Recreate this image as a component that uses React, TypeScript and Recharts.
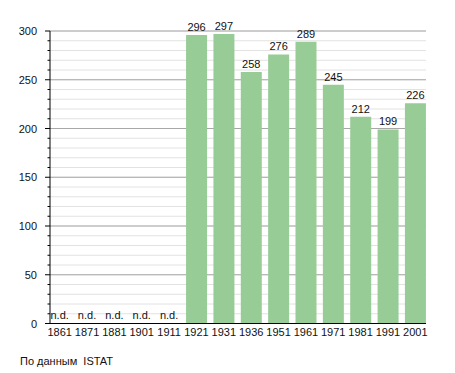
import React from "react";
import {
  BarChart,
  Bar,
  XAxis,
  YAxis,
  CartesianGrid,
  LabelList,
} from "recharts";

const years = [
  "1861", "1871", "1881", "1901", "1911", "1921", "1931",
  "1936", "1951", "1961", "1971", "1981", "1991", "2001",
];
const population: (number | null)[] = [
  null, null, null, null, null, 296, 297, 258, 276, 289, 245, 212, 199, 226,
];
const majorTicks = [0, 50, 100, 150, 200, 250, 300];
const minorTicks = [
  0, 10, 20, 30, 40, 50, 60, 70, 80, 90, 100, 110, 120, 130, 140, 150, 160,
  170, 180, 190, 200, 210, 220, 230, 240, 250, 260, 270, 280, 290, 300,
];

const FONT = "'Liberation Sans', Arial, sans-serif";
const BAR_COLOR = "#97cc97";

const data = years.map((year, i) => ({
  year,
  value: population[i],
}));

const YTick = (props: any) => {
  const { x, y, payload } = props;
  const major = payload.value % 50 === 0;
  return (
    <g>
      <line
        x1={x - (major ? 5 : 2.5)}
        x2={x}
        y1={y}
        y2={y}
        stroke="#000"
        strokeWidth={1}
      />
      {major && (
        <text
          x={x - 13}
          y={y + 4}
          textAnchor="end"
          fontSize={11}
          fontFamily={FONT}
          fill="#111"
        >
          {payload.value}
        </text>
      )}
    </g>
  );
};

// year label under the axis, plus "n.d." above the axis where no value exists
const XTick = (props: any) => {
  const { x, y, payload, index } = props;
  const missing = population[index] === null;
  return (
    <g>
      <text
        x={x}
        y={y + 12}
        textAnchor="middle"
        fontSize={11}
        fontFamily={FONT}
        fill="#111"
      >
        {payload.value}
      </text>
      {missing && (
        <text
          x={x}
          y={y - 5}
          textAnchor="middle"
          fontSize={11}
          fontFamily={FONT}
          fill="#111"
        >
          n.d.
        </text>
      )}
    </g>
  );
};

export default function App() {
  return (
    <div
      style={{
        position: "absolute",
        left: 0,
        top: 0,
        width: 455,
        height: 373,
        background: "#fff",
      }}
    >
      <BarChart
        width={455}
        height={373}
        data={data}
        margin={{ top: 31, right: 29, bottom: 29.5, left: 0 }}
        barCategoryGap="12%"
      >
        <CartesianGrid
          vertical={false}
          stroke="#e2e2e2"
          horizontalValues={minorTicks}
        />
        <CartesianGrid
          vertical={false}
          stroke="#a8a8a8"
          horizontalValues={majorTicks}
        />
        <XAxis
          dataKey="year"
          height={20}
          padding={{ left: -4, right: -3 }}
          tickLine={false}
          tickSize={0}
          tickMargin={0}
          axisLine={{ stroke: "#000" }}
          tick={<XTick />}
          interval={0}
        />
        <YAxis
          width={50}
          domain={[0, 300]}
          ticks={minorTicks}
          interval={0}
          tickSize={0}
          tickMargin={0}
          tickLine={false}
          axisLine={{ stroke: "#000" }}
          tick={<YTick />}
        />
        <Bar dataKey="value" fill={BAR_COLOR} isAnimationActive={false}>
          <LabelList
            dataKey="value"
            position="top"
            offset={4}
            fontSize={11}
            fontFamily={FONT}
            fill="#111"
          />
        </Bar>
      </BarChart>
      <div
        style={{
          position: "absolute",
          left: 20,
          top: 355,
          fontSize: 11,
          fontFamily: FONT,
          color: "#111",
          whiteSpace: "pre",
        }}
      >
        {"По данным  ISTAT"}
      </div>
    </div>
  );
}
